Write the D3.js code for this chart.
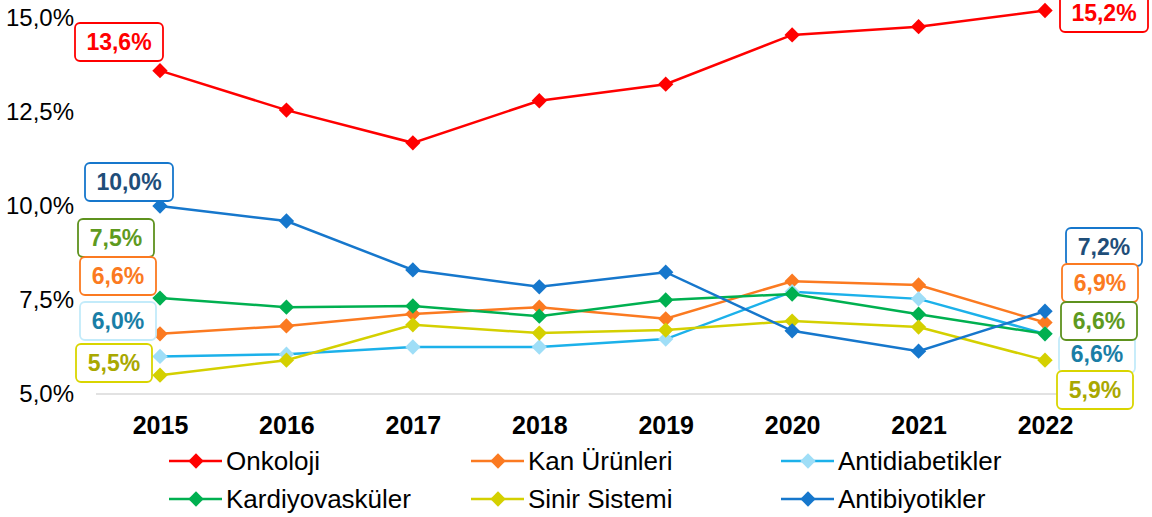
<!DOCTYPE html>
<html>
<head>
<meta charset="utf-8">
<script src="https://cdn.jsdelivr.net/npm/d3@7"></script>
<style>
  body { margin: 0; background: #fff; }
  text { font-family: "Liberation Sans", Arial, sans-serif; }
</style>
</head>
<body>
<script>
// data
var years = ["2015", "2016", "2017", "2018", "2019", "2020", "2021", "2022"];
var yTicks = [5, 7.5, 10, 12.5, 15];
var onkoloji = [13.6, 12.55, 11.68, 12.8, 13.24, 14.55, 14.77, 15.2];
var kanUrunleri = [6.6, 6.81, 7.13, 7.31, 7.0, 8.0, 7.9, 6.9];
var antidiabetikler = [6.0, 6.06, 6.25, 6.25, 6.46, 7.72, 7.53, 6.6];
var kardiyovaskuler = [7.55, 7.31, 7.34, 7.07, 7.5, 7.66, 7.12, 6.6];
var sinirSistemi = [5.5, 5.9, 6.84, 6.62, 6.7, 6.94, 6.78, 5.9];
var antibiyotikler = [10.0, 9.6, 8.3, 7.85, 8.24, 6.68, 6.14, 7.2];
var seriesNames = ["Onkoloji", "Kan Ürünleri", "Antidiabetikler", "Kardiyovasküler", "Sinir Sistemi", "Antibiyotikler"];
var firstLabels = ["13,6%", "6,6%", "6,0%", "7,5%", "5,5%", "10,0%"];
var lastLabels = ["15,2%", "6,9%", "6,6%", "6,6%", "5,9%", "7,2%"];

function drawChart() {
  var w = 1152, h = 517;
  var series = [
    { name: seriesNames[0], values: onkoloji, line: "#ff0000", marker: "#ff0000", border: "#ff0000", text: "#ff0000" },
    { name: seriesNames[1], values: kanUrunleri, line: "#fb7a21", marker: "#fb7a21", border: "#fb7a21", text: "#fb7a21" },
    { name: seriesNames[2], values: antidiabetikler, line: "#1cb1ea", marker: "#9fdef7", border: "#c3ebfa", text: "#1a7ea6" },
    { name: seriesNames[3], values: kardiyovaskuler, line: "#00b050", marker: "#00b050", border: "#5e921e", text: "#5e9a1f" },
    { name: seriesNames[4], values: sinirSistemi, line: "#d4d000", marker: "#d4d000", border: "#d9d500", text: "#a9a800" },
    { name: seriesNames[5], values: antibiyotikler, line: "#1677cc", marker: "#1677cc", border: "#1677cc", text: "#1f4e79" }
  ];
  // label box centres for first/last points
  var firstBox = [[119, 42], [118, 276], [118, 321], [116, 238], [114, 363], [129, 182]];
  var lastBox = [[1104, 13], [1100, 283], [1097, 354], [1099, 321], [1095, 390], [1104, 247]];

  var x = d3.scalePoint().domain(years).range([160, 1045]);
  var y = d3.scaleLinear().domain([5, 15]).range([394, 18]);

  var svg = d3.select("body").append("svg").attr("width", w).attr("height", h);

  // y axis labels
  var yAxis = d3.axisLeft(y).tickValues(yTicks).tickSize(0).tickPadding(0)
    .tickFormat(d => d3.format(".1f")(d).replace(".", ",") + "%");
  var gy = svg.append("g").attr("transform", "translate(74,0)").call(yAxis);
  gy.select(".domain").remove();
  gy.selectAll("text").attr("font-size", "24px").attr("fill", "#000")
    .attr("font-family", "Liberation Sans, Arial, sans-serif");

  // baseline
  svg.append("line").attr("x1", 96).attr("x2", 1110).attr("y1", y(5)).attr("y2", y(5))
    .attr("stroke", "#d9d9d9").attr("stroke-width", 1.5);

  // x axis
  var xAxis = d3.axisBottom(x).tickSize(0).tickPadding(0);
  var gx = svg.append("g").attr("transform", "translate(0,425)").call(xAxis);
  gx.select(".domain").remove();
  gx.selectAll("text").attr("font-size", "25px").attr("font-weight", "bold").attr("fill", "#000")
    .attr("dy", "0.36em").attr("font-family", "Liberation Sans, Arial, sans-serif");

  var line = d3.line().x((d, i) => x(years[i])).y(d => y(d));
  var diamond = d3.symbol().type(d3.symbolDiamond2).size(150);

  series.forEach(function (s) {
    svg.append("path").datum(s.values).attr("d", line)
      .attr("fill", "none").attr("stroke", s.line).attr("stroke-width", 2.5);
    svg.selectAll(null).data(s.values).enter().append("path")
      .attr("d", diamond)
      .attr("transform", (d, i) => "translate(" + x(years[i]) + "," + y(d) + ")")
      .attr("fill", s.marker);
  });

  // data labels
  function label(s, pos, txt) {
    var bw = txt.length > 4 ? 88 : 76, bh = 38;
    svg.append("rect").attr("x", pos[0] - bw / 2).attr("y", pos[1] - bh / 2)
      .attr("width", bw).attr("height", bh).attr("rx", 5)
      .attr("fill", "#fff").attr("stroke", s.border).attr("stroke-width", 1.8);
    svg.append("text").attr("x", pos[0]).attr("y", pos[1]).attr("dy", "0.36em")
      .attr("text-anchor", "middle").attr("font-size", "23px").attr("font-weight", "bold")
      .attr("fill", s.text).text(txt);
  }
  // draw order so overlaps look right
  [3, 1, 2, 4, 5, 0].forEach(function (i) { label(series[i], firstBox[i], firstLabels[i]); });
  [5, 1, 2, 3, 4, 0].forEach(function (i) { label(series[i], lastBox[i], lastLabels[i]); });

  // legend
  var legendPos = [[169, 461], [471, 461], [781, 461], [169, 499], [471, 499], [781, 499]];
  series.forEach(function (s, i) {
    var g = svg.append("g").attr("transform", "translate(" + legendPos[i][0] + "," + legendPos[i][1] + ")");
    g.append("line").attr("x1", 0).attr("x2", 53).attr("stroke", s.line).attr("stroke-width", 2.5);
    g.append("path").attr("d", diamond).attr("transform", "translate(27,0)").attr("fill", s.marker);
    g.append("text").attr("x", 57).attr("dy", "0.36em").attr("font-size", "26px").attr("fill", "#000").text(s.name);
  });
}

window.onload = function () {
  drawChart();
};
</script>
</body>
</html>
